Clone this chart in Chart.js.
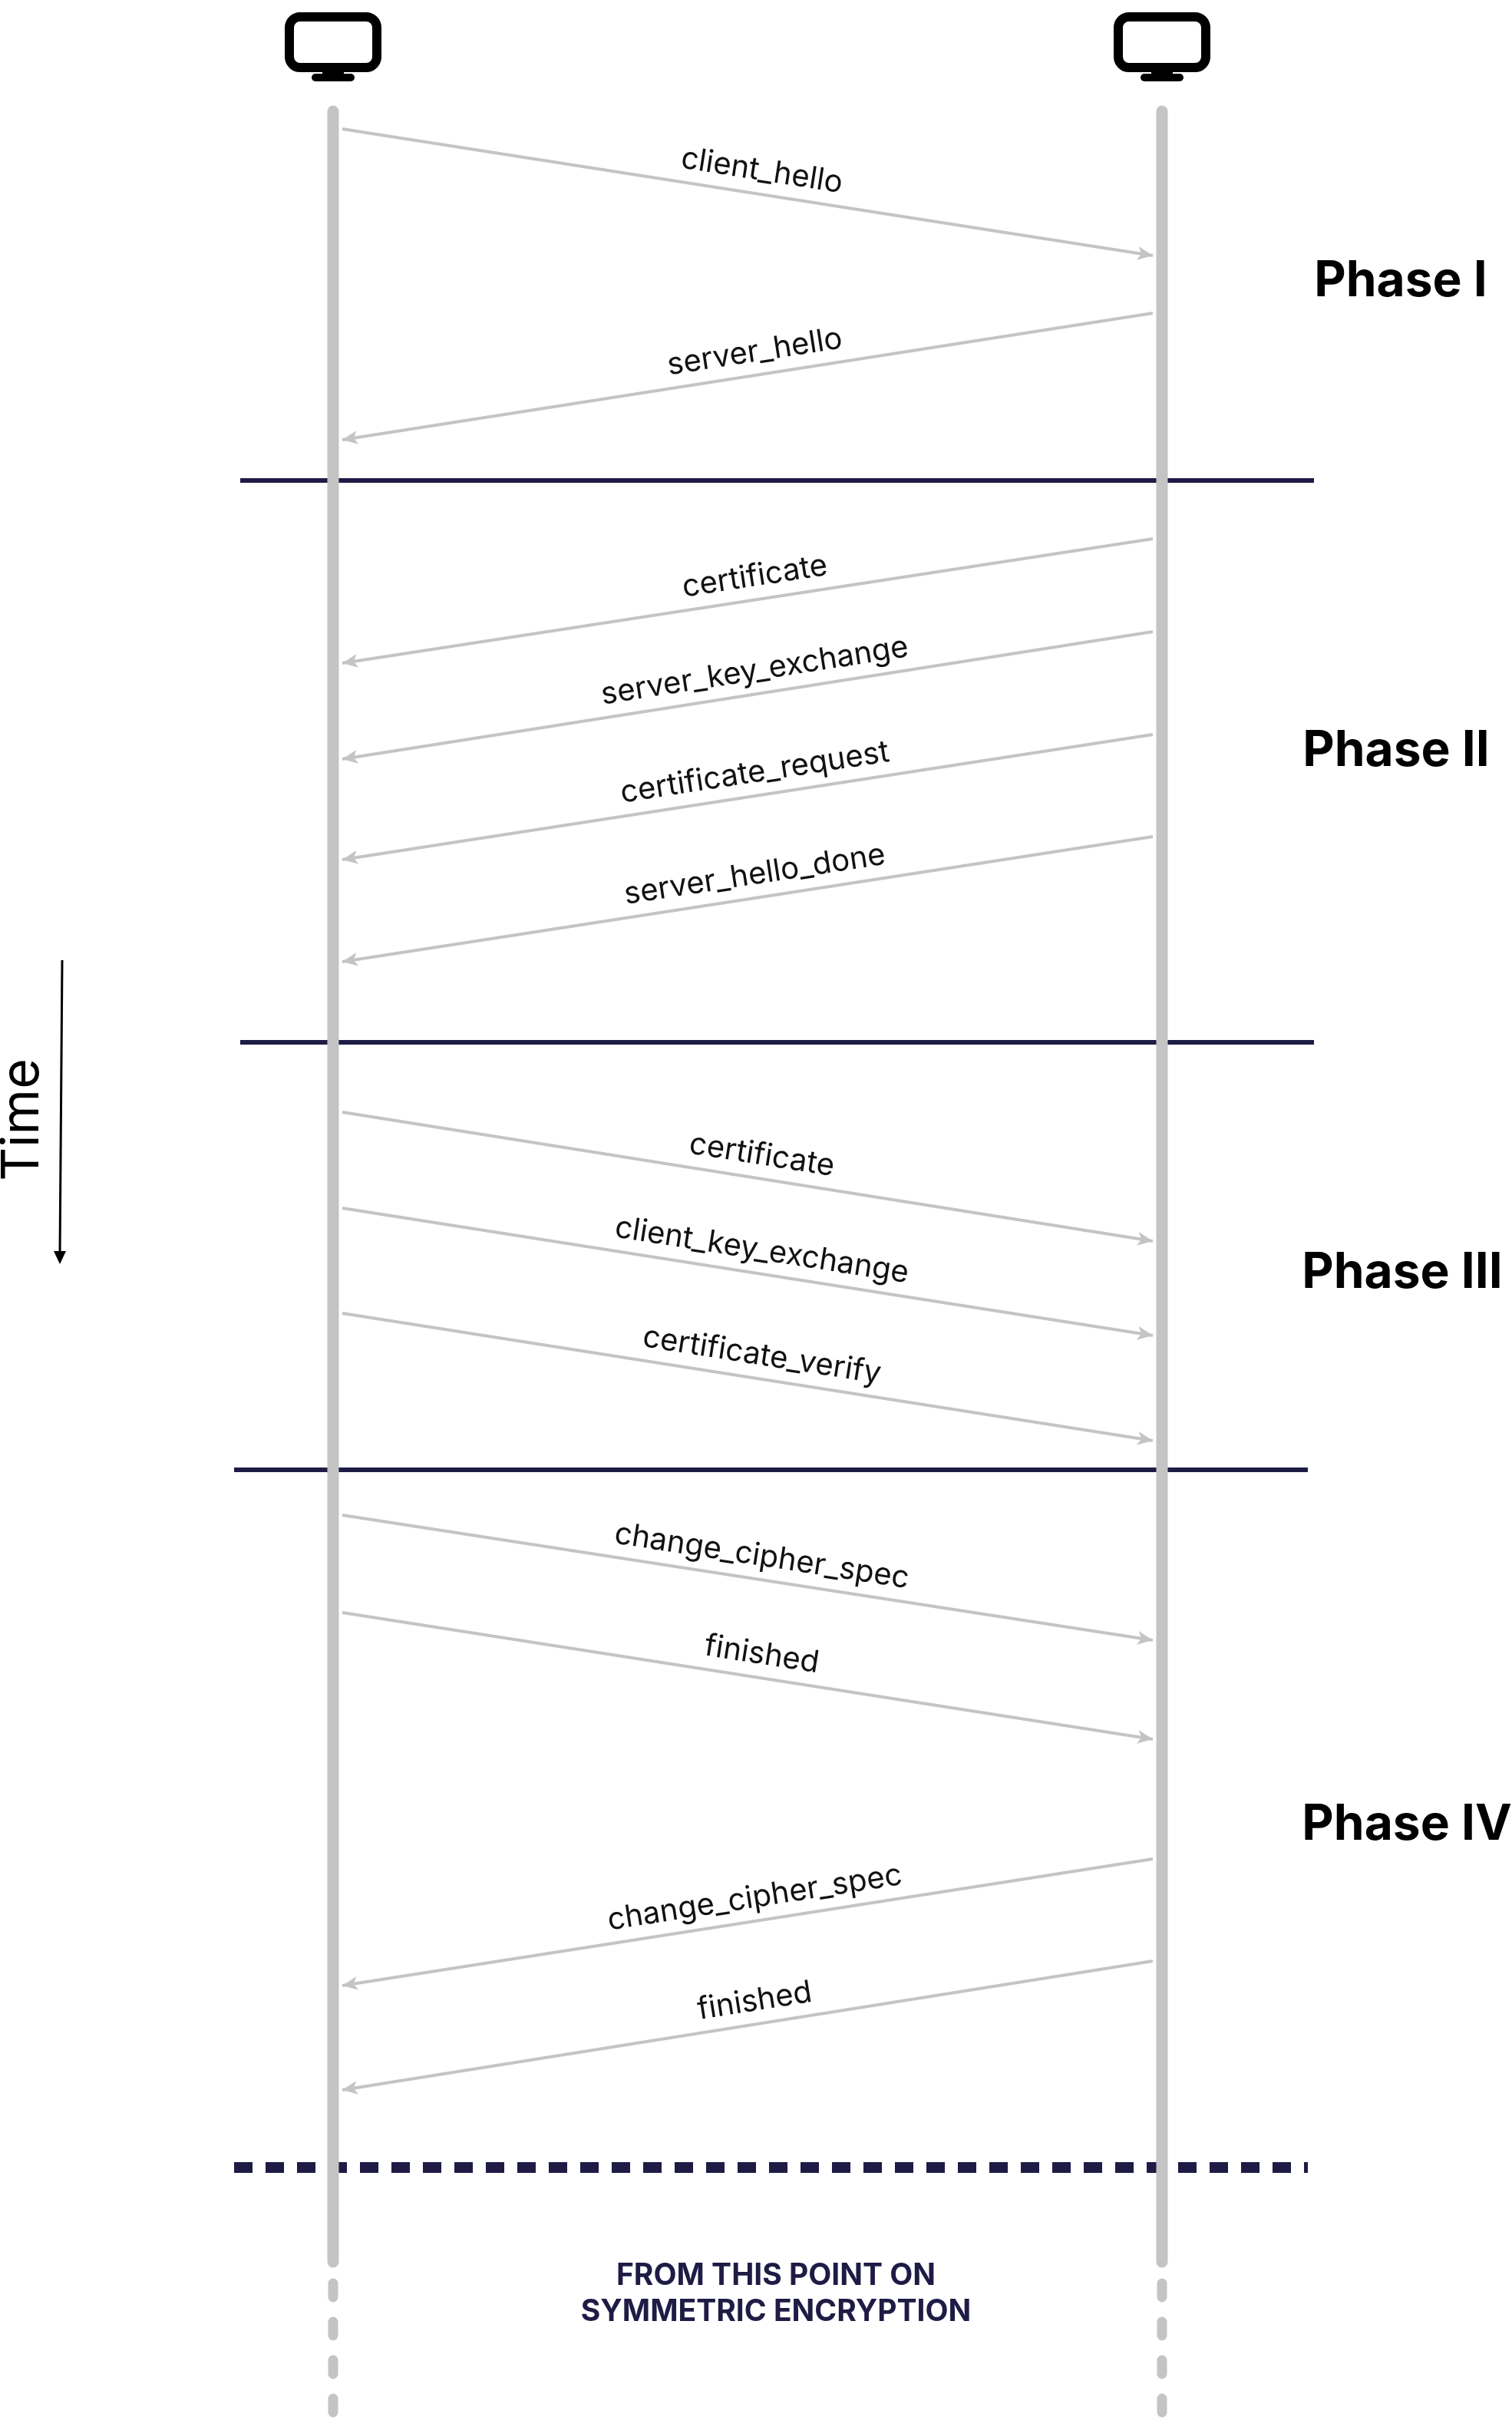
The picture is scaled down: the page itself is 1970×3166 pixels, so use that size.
<!DOCTYPE html>
<html><head><meta charset="utf-8">
<script src="https://cdn.jsdelivr.net/npm/chart.js@4/dist/chart.umd.min.js"></script>
<style>html,body{margin:0;padding:0;background:#fff}canvas{display:block}</style>
</head><body>
<canvas id="c" width="1970" height="3166" style="width:1970px;height:3166px"></canvas>
<script>
const lifelineX = [434, 1514];
const lifelineTop = 145, lifelineSolidEnd = 2947, pageBottom = 3166;
const messageLabels = ['client_hello','server_hello','certificate','server_key_exchange','certificate_request','server_hello_done','certificate','client_key_exchange','certificate_verify','change_cipher_spec','finished','change_cipher_spec','finished'];
const messageFrom = ['L','R','R','R','R','R','L','L','L','L','L','R','R'];
const messageStartY = [168,408,702,823,957,1090,1449,1574,1711,1974,2101,2422,2555];
const messageEndY   = [333,573,864,989,1120,1253,1617,1740,1877,2137,2266,2587,2723];
const separatorY = [626,1358,1915];
const separatorXL = [313,313,305];
const separatorXR = [1712,1712,1704];
const encryptionLineY = 2824;
const phaseNames = ['Phase I','Phase II','Phase III','Phase IV'];
const phaseX = [1825,1819,1827,1833];
const phaseY = [367,979,1659,2378];
const footerLines = ['FROM THIS POINT ON','SYMMETRIC ENCRYPTION'];
const footerY = [2965,3012];

const GREY='#c4c4c4', NAVY='#1e1b45';
const datasets=[];
lifelineX.forEach(x=>{
  datasets.push({data:[{x,y:lifelineTop},{x,y:lifelineSolidEnd}],borderColor:GREY,borderWidth:15,borderCapStyle:'round',pointRadius:0});
  datasets.push({data:[{x,y:lifelineSolidEnd+28},{x,y:pageBottom}],borderColor:GREY,borderWidth:13,borderCapStyle:'round',borderDash:[18,32],pointRadius:0});
});
messageLabels.forEach((l,i)=>{
  const x0 = messageFrom[i]==='L'?lifelineX[0]+12:lifelineX[1]-12;
  const x1 = messageFrom[i]==='L'?lifelineX[1]-12:lifelineX[0]+12;
  datasets.push({label:l,msg:i,data:[{x:x0,y:messageStartY[i]},{x:x1,y:messageEndY[i]}],borderColor:GREY,borderWidth:4,pointRadius:0});
});
separatorY.forEach((y,i)=>{
  datasets.push({data:[{x:separatorXL[i],y},{x:separatorXR[i],y}],borderColor:NAVY,borderWidth:6,pointRadius:0});
});
datasets.push({data:[{x:305,y:encryptionLineY},{x:1704,y:encryptionLineY}],borderColor:NAVY,borderWidth:14,borderDash:[24,17],pointRadius:0});

const deco={id:'deco',afterDatasetsDraw(chart){
  const ctx=chart.ctx, xs=chart.scales.x, ys=chart.scales.y;
  ctx.save();
  messageLabels.forEach((l,i)=>{
    const fromL=messageFrom[i]==='L';
    const ax=xs.getPixelForValue(fromL?lifelineX[0]+12:lifelineX[1]-12), ay=ys.getPixelForValue(messageStartY[i]);
    const bx=xs.getPixelForValue(fromL?lifelineX[1]-12:lifelineX[0]+12), by=ys.getPixelForValue(messageEndY[i]);
    const ang=Math.atan2(by-ay,bx-ax);
    ctx.save();ctx.translate(bx,by);ctx.rotate(ang);
    ctx.fillStyle=GREY;ctx.beginPath();ctx.moveTo(0,0);ctx.lineTo(-20,-9);ctx.lineTo(-15,0);ctx.lineTo(-20,9);ctx.closePath();ctx.fill();
    ctx.restore();
    const lx=Math.min(ax,bx),rx=Math.max(ax,bx);
    const ly=fromL?ay:by, ry=fromL?by:ay;
    const ta=Math.atan2(ry-ly,rx-lx);
    const mx=(ax+bx)/2+14, my=(ay+by)/2+(fromL?2:-2);
    ctx.save();ctx.translate(mx,my);ctx.rotate(ta);
    ctx.fillStyle='#111';ctx.font='40px Inter';ctx.textAlign='center';ctx.textBaseline='alphabetic';
    ctx.fillText(l,0,-18);
    ctx.restore();
  });
  ctx.fillStyle='#000';ctx.font='bold 64px Inter';ctx.textAlign='center';ctx.textBaseline='middle';
  phaseNames.forEach((p,i)=>ctx.fillText(p,xs.getPixelForValue(phaseX[i]),ys.getPixelForValue(phaseY[i])));
  ctx.fillStyle=NAVY;ctx.font='bold 39px Inter';
  footerLines.forEach((t,i)=>ctx.fillText(t,1011,footerY[i]));
  ctx.save();ctx.translate(30,1459);ctx.rotate(-Math.PI/2);ctx.fillStyle='#000';ctx.font='68px Inter';ctx.fillText('Time',0,0);ctx.restore();
  ctx.strokeStyle='#000';ctx.lineWidth=3;ctx.beginPath();ctx.moveTo(81,1251);ctx.lineTo(78,1635);ctx.stroke();
  ctx.fillStyle='#000';ctx.beginPath();ctx.moveTo(78,1647);ctx.lineTo(70,1630);ctx.lineTo(86,1630);ctx.closePath();ctx.fill();
  lifelineX.forEach(cx=>{
    ctx.strokeStyle='#000';ctx.lineWidth=12;ctx.beginPath();ctx.roundRect(cx-57,22,114,66,14);ctx.stroke();
    ctx.fillStyle='#000';ctx.fillRect(cx-14,90,28,10);
    ctx.beginPath();ctx.roundRect(cx-28,96,56,10,5);ctx.fill();
  });
  ctx.restore();
}};

new Chart(document.getElementById('c'),{type:'line',data:{datasets},plugins:[deco],
options:{responsive:false,animation:false,devicePixelRatio:1,layout:{padding:0},
plugins:{legend:{display:false},tooltip:{enabled:false}},
scales:{x:{type:'linear',display:false,min:0,max:1970},y:{type:'linear',display:false,min:0,max:3166,reverse:true}}}});
</script>
</body></html>
